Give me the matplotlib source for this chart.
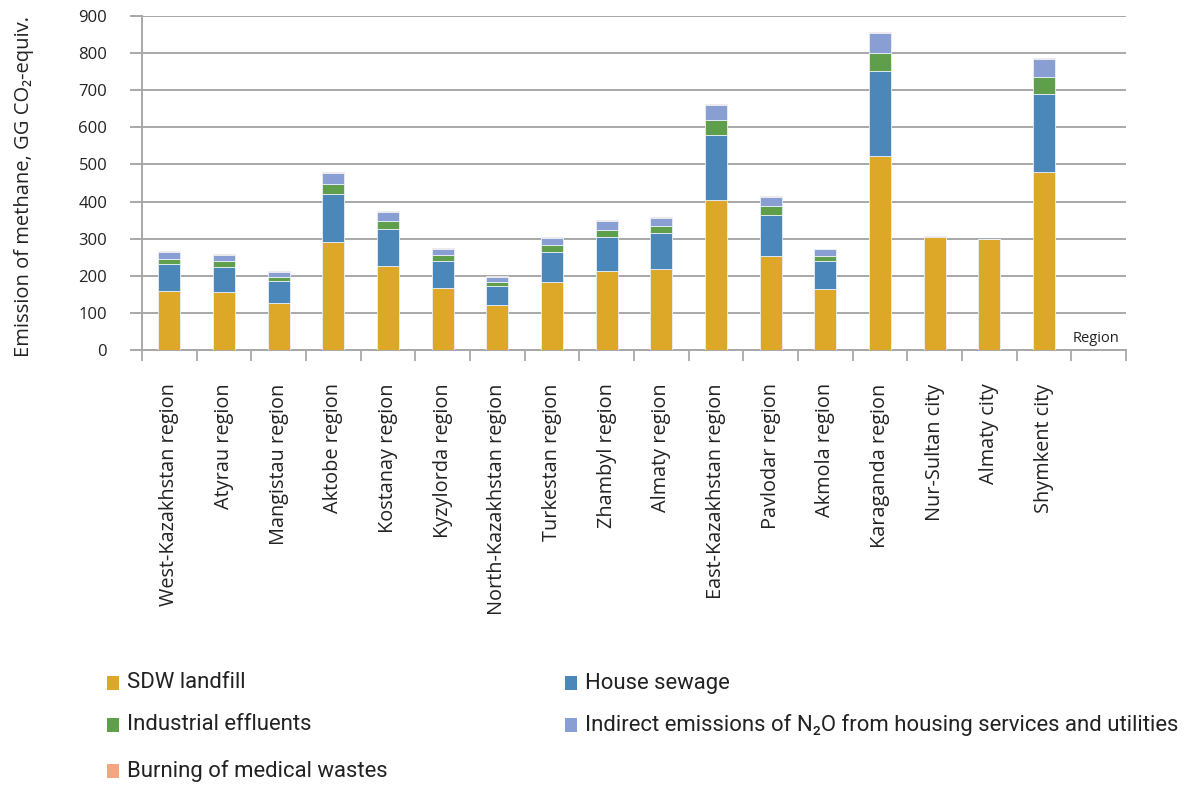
import numpy as np
from matplotlib import pyplot as plt
from matplotlib.patches import Rectangle

regions = ['West-Kazakhstan region', 'Atyrau region', 'Mangistau region', 'Aktobe region',
           'Kostanay region', 'Kyzylorda region', 'North-Kazakhstan region', 'Turkestan region',
           'Zhambyl region', 'Almaty region', 'East-Kazakhstan region', 'Pavlodar region',
           'Akmola region', 'Karaganda region', 'Nur-Sultan city', 'Almaty city', 'Shymkent city', '']

# methane emissions by source, GG CO2-equiv.
sdw_landfill = [160, 157, 128, 292, 226, 167, 120, 184, 212, 218, 404, 253, 165, 522, 304, 298, 479, 0]
house_sewage = [72, 68, 58, 129, 99, 74, 52, 81, 93, 96, 176, 112, 74, 229, 0, 0, 212, 0]
industrial = [14, 15, 12, 27, 23, 16, 12, 19, 19, 19, 40, 24, 15, 50, 0, 0, 46, 0]
indirect_n2o = [18, 16, 11, 29, 24, 15, 12, 18, 24, 24, 40, 24, 17, 52, 0, 0, 48, 0]
medical = [3, 3, 3, 3, 2, 3, 3, 3, 2, 2, 3, 3, 2, 3, 3, 2, 2, 0]

series = [('SDW landfill', sdw_landfill, '#DDA827'),
          ('House sewage', house_sewage, '#4C87B9'),
          ('Industrial effluents', industrial, '#5F9E4A'),
          ('Indirect emissions of N\u2082O from housing services and utilities', indirect_n2o, '#899FD4'),
          ('Burning of medical wastes', medical, '#F4A582')]

AX_FONT = ['Open Sans', 'DejaVu Sans']
LEG_FONT = ['Roboto', 'DejaVu Sans']
GRID = '#A8A8A8'

fig = plt.figure(figsize=(11.88, 7.85), dpi=100)
ax = fig.add_axes([0.1195, 0.5541, 0.8283, 0.4255])

x = np.arange(len(regions))
bottom = np.zeros(len(regions))
for name, vals, col in series:
    vals = np.array(vals, dtype=float)
    ax.bar(x, vals, 0.4, bottom=bottom, color=col, edgecolor='#EAF0F8', linewidth=0.6, zorder=3)
    bottom += vals

ax.set_xlim(-0.5, len(regions) - 0.5)
ax.set_ylim(0, 900)
ax.set_yticks(np.arange(0, 901, 100))
ax.yaxis.grid(True, color=GRID, linewidth=1.4, zorder=0)
ax.tick_params(axis='y', length=9, width=1.4, color=GRID, pad=16, labelsize=12, labelcolor='#222222')
for t in ax.get_yticklabels():
    t.set_family(AX_FONT)

ax.set_xticks(x)
ax.set_xticklabels(regions, rotation=90, fontsize=14.3, family=AX_FONT, color='#222222',
                   ha='center', va='top')
ax.tick_params(axis='x', which='major', length=0, pad=24)
ax.set_xticks(np.arange(-0.5, len(regions)), minor=True)
ax.tick_params(axis='x', which='minor', length=8, width=1.3, color=GRID, direction='out')

for side in ['top', 'right']:
    ax.spines[side].set_visible(False)
ax.spines['left'].set_color(GRID)
ax.spines['left'].set_linewidth(1.4)
ax.spines['bottom'].set_color(GRID)
ax.spines['bottom'].set_linewidth(1.4)

ax.set_ylabel('Emission of methane, GG CO\u2082-equiv.', fontsize=14.5, family=AX_FONT,
              color='#222222')
ax.yaxis.set_label_coords(-0.11, 0.49)
ax.text(0.993, 0.012, 'Region', transform=ax.transAxes, ha='right', va='bottom',
        fontsize=10.5, family=AX_FONT, color='#222222')

# legend laid out by hand in two columns
leg_pos = [(107, 683), (565, 683), (107, 725), (565, 725), (107, 771)]
W, H = 1188.0, 785.0
for (name, vals, col), (px, py) in zip(series, leg_pos):
    fig.patches.append(Rectangle((px / W, (H - py - 7) / H), 12 / W, 14 / H,
                                 transform=fig.transFigure, facecolor=col, edgecolor='none'))
    fig.text((px + 20) / W, (H - py) / H, name, ha='left', va='center',
             fontsize=15.9, family=LEG_FONT, color='#222222')

fig.savefig('out.png', dpi=100)
